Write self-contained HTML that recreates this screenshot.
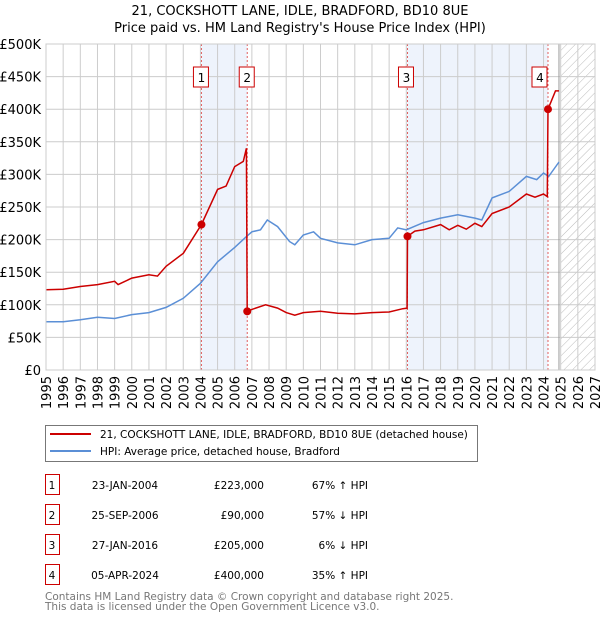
<!DOCTYPE html>
<html><head><meta charset="utf-8">
<style>
body{margin:0;background:#fff;font-family:"Liberation Sans","DejaVu Sans",sans-serif;}
#wrap{position:relative;width:600px;height:620px;overflow:hidden;}
svg text{font-family:"DejaVu Sans","Liberation Sans",sans-serif;}
</style></head>
<body>
<div id="wrap">
<svg id="chart" width="600" height="620"></svg>
</div>
<script>
const hpiYears=[1995,1996,1997,1998,1999,2000,2001,2002,2003,2004,2005,2006,2006.7,2007,2007.5,2007.9,2008.5,2009.2,2009.5,2010,2010.6,2011,2012,2013,2014,2015,2015.5,2016,2017,2018,2019,2020,2020.4,2021,2022,2023,2023.6,2024,2024.3,2024.9];
const hpiValues=[74,74,77,81,79,85,88,96,110,133,166,188,205,212,215,230,220,197,192,207,212,202,195,192,200,202,218,215,226,233,238,233,230,264,274,297,292,302,297,319];
const priceYears=[1995,1996,1997,1998,1999,1999.2,2000,2001,2001.5,2002,2003,2004.06,2005,2005.5,2006,2006.5,2006.68,2006.73,2007,2007.8,2008.5,2009,2009.5,2010,2011,2012,2013,2014,2015,2015.8,2016.05,2016.07,2016.5,2017,2018,2018.5,2019,2019.5,2020,2020.4,2021,2022,2023,2023.5,2024,2024.22,2024.26,2024.7,2024.9];
const priceValues=[123,124,128,131,136,131,141,146,144,159,179,223,277,282,312,320,340,90,93,100,95,88,84,88,90,87,86,88,89,94,95,205,213,215,223,215,222,216,225,220,240,250,270,265,270,266,400,428,428];
const saleYears=[2004.06,2006.73,2016.07,2024.26];
const saleValues=[223,90,205,400];
const saleLabels=["1","2","3","4"];
const yTicks=[0,50,100,150,200,250,300,350,400,450,500];
const yTickLabels=["£0","£50K","£100K","£150K","£200K","£250K","£300K","£350K","£400K","£450K","£500K"];
const xTicks=[1995,1996,1997,1998,1999,2000,2001,2002,2003,2004,2005,2006,2007,2008,2009,2010,2011,2012,2013,2014,2015,2016,2017,2018,2019,2020,2021,2022,2023,2024,2025,2026,2027];

const L=46,R=595,T=44,B=370;
const x=y=>L+(y-1995)/32*(R-L);
const yv=v=>B-v/500*(B-T);
const NS="http://www.w3.org/2000/svg";
const svg=document.getElementById('chart');
function mk(tag,attrs,parent){const e=document.createElementNS(NS,tag);for(const k in attrs)e.setAttribute(k,attrs[k]);(parent||svg).appendChild(e);return e;}

const defs=mk('defs',{});
const pat=mk('pattern',{id:'hatch',width:6,height:6,patternUnits:'userSpaceOnUse',patternTransform:'rotate(45)'},defs);
mk('line',{x1:0,y1:0,x2:0,y2:6,stroke:'#bbb','stroke-width':1},pat);

let t=mk('text',{x:300,y:15,'text-anchor':'middle','font-size':13,fill:'#000'});t.textContent='21, COCKSHOTT LANE, IDLE, BRADFORD, BD10 8UE';


t=mk('text',{x:300,y:32,'text-anchor':'middle','font-size':13,fill:'#000'});t.textContent="Price paid vs. HM Land Registry's House Price Index (HPI)";



[[0,1],[2,3]].forEach(p=>{
  const r=mk('rect',{x:x(saleYears[p[0]]),y:T,width:x(saleYears[p[1]])-x(saleYears[p[0]]),height:B-T,fill:'#eef3fc'});
  
  
});
const hz=mk('rect',{x:x(2025),y:T,width:R-x(2025),height:B-T,fill:'url(#hatch)'});



yTicks.forEach((v,i)=>{
  const g=mk('line',{x1:L,x2:R,y1:yv(v),y2:yv(v),stroke:'#cccccc','stroke-width':1});
  
  
  const tx=mk('text',{x:L-5,y:yv(v)+5,'text-anchor':'end','font-size':13,fill:'#000'});tx.textContent=yTickLabels[i];
  
  
});
xTicks.forEach(yr=>{
  const g=mk('line',{x1:x(yr),x2:x(yr),y1:T,y2:B,stroke:'#cccccc','stroke-width':1});
  
  
  const tx=mk('text',{x:0,y:0,'text-anchor':'end','font-size':13,fill:'#000',transform:`translate(${x(yr)+5},${B+6}) rotate(-90)`});tx.textContent=yr;
  
  
});
const ln=mk('line',{x1:x(2024.9),x2:x(2024.9),y1:T,y2:B,stroke:'#999','stroke-width':1});



saleYears.forEach((s,i)=>{
  const l=mk('line',{x1:x(s),x2:x(s),y1:T,y2:B,stroke:'#e06060','stroke-width':1,'stroke-dasharray':'2,2'});
  
  
  const bx=x(s)-(i==3?8:i==2?1:0);
  const r=mk('rect',{x:bx-8,y:67,width:15,height:20,fill:'#fff',stroke:'#cc0000','stroke-width':1});
  
  
  const tx=mk('text',{x:bx,y:82,'text-anchor':'middle','font-size':12,fill:'#000'});tx.textContent=saleLabels[i];
  
  
});

const hp=mk('path',{d:hpiYears.map((yr,i)=>(i?'L':'M')+x(yr).toFixed(1)+','+yv(hpiValues[i]).toFixed(1)).join(''),fill:'none',stroke:'#5b8fd6','stroke-width':1.5});


const pp=mk('path',{d:priceYears.map((yr,i)=>(i?'L':'M')+x(yr).toFixed(1)+','+yv(priceValues[i]).toFixed(1)).join(''),fill:'none',stroke:'#cc0000','stroke-width':1.5});


saleYears.forEach((s,i)=>{
  const c=mk('circle',{cx:x(s),cy:yv(saleValues[i]),r:4,fill:'#cc0000'});
  
  
});
const frame=mk('rect',{x:L,y:T,width:R-L,height:B-T,fill:'none',stroke:'#cccccc'});



const lg=mk('rect',{x:45.5,y:425.5,width:432,height:36,fill:'#fff',stroke:'#777'});


let l1=mk('line',{x1:50,x2:91,y1:434,y2:434,stroke:'#cc0000','stroke-width':2});


let lt=mk('text',{x:100,y:438,'font-size':10.5,fill:'#000'});lt.textContent='21, COCKSHOTT LANE, IDLE, BRADFORD, BD10 8UE (detached house)';


l1=mk('line',{x1:50,x2:91,y1:451,y2:451,stroke:'#5b8fd6','stroke-width':2});


lt=mk('text',{x:100,y:455,'font-size':10.5,fill:'#000'});lt.textContent='HPI: Average price, detached house, Bradford';



const rows=[["1","23-JAN-2004","£223,000","67% ↑ HPI"],["2","25-SEP-2006","£90,000","57% ↓ HPI"],["3","27-JAN-2016","£205,000","6% ↓ HPI"],["4","05-APR-2024","£400,000","35% ↑ HPI"]];
rows.forEach((r,i)=>{
  const cy=483+i*30;
  const b=mk('rect',{x:45.5,y:cy-8.5,width:14,height:20,fill:'none',stroke:'#cc0000'});
  
  
  const cells=[[52,'middle',r[0]],[125,'middle',r[1]],[264,'end',r[2]],[368,'end',r[3]]];
  cells.forEach(c=>{
    const tx=mk('text',{x:c[0],y:cy+6,'text-anchor':c[1],'font-size':10.5,fill:'#000'});tx.textContent=c[2];
    
    
  });
});
let f=mk('text',{x:45,y:600,'font-size':10.5,fill:'#777'});f.textContent='Contains HM Land Registry data © Crown copyright and database right 2025.';


f=mk('text',{x:45,y:610,'font-size':10.5,fill:'#777'});f.textContent='This data is licensed under the Open Government Licence v3.0.';


</script>
</body></html>
